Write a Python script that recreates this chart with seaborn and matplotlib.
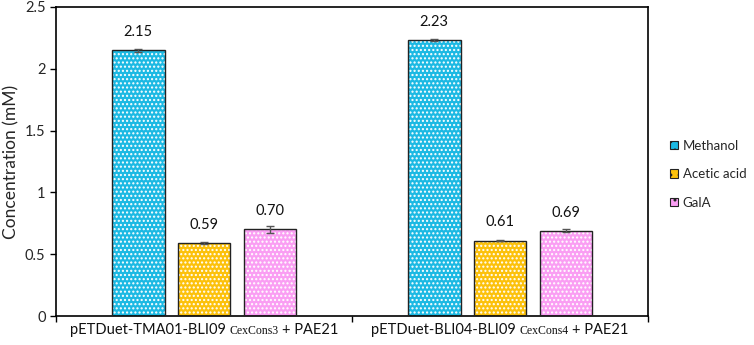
import matplotlib
matplotlib.use("Agg")
import matplotlib.pyplot as plt
import seaborn as sns
import pandas as pd
import numpy as np
from matplotlib.patches import Rectangle
from matplotlib.offsetbox import TextArea, HPacker, AnnotationBbox

groups = ["pETDuet-TMA01-BLI09 CexCons3 + PAE21",
          "pETDuet-BLI04-BLI09 CexCons4 + PAE21"]
label_prefix = ["pETDuet-TMA01-BLI09", "pETDuet-BLI04-BLI09"]
label_middle = ["CexCons3", "CexCons4"]
label_suffix = ["+ PAE21", "+ PAE21"]
compounds = ["Methanol", "Acetic acid", "GalA"]
methanol = [2.15, 2.23]
acetic = [0.59, 0.61]
gala = [0.70, 0.69]
methanol_err = [0.012, 0.008]
acetic_err = [0.005, 0.005]
gala_err = [0.03, 0.012]
value_labels = {"Methanol": ["2.15", "2.23"], "Acetic acid": ["0.59", "0.61"], "GalA": ["0.70", "0.69"]}
colors = ["#1cb9e3", "#fcc10b", "#fa9ef3"]

df = pd.DataFrame({
    "group": groups * 3,
    "compound": sum([[c] * 2 for c in compounds], []),
    "value": methanol + acetic + gala,
    "err": methanol_err + acetic_err + gala_err,
})

sns.set_theme(style="white")
plt.rcParams["font.family"] = ["Lato", "DejaVu Sans"]

fig = plt.figure(figsize=(7.54, 3.45), dpi=100)
ax = fig.add_axes([0.0743, 0.084, 0.7852, 0.896])

sns.barplot(data=df, x="group", y="value", hue="compound", order=groups,
            hue_order=compounds, palette=colors, width=0.667, gap=0.2,
            errorbar=None, ax=ax, legend=False, saturation=1)

bar_containers = list(ax.containers)
for i, cont in enumerate(bar_containers):
    comp = compounds[i]
    sub = df[df.compound == comp].set_index("group").loc[groups]
    xs, ys = [], []
    for p in cont.patches:
        p.set_hatch("....")
        p.set_edgecolor("white")
        p.set_linewidth(0)
        ax.add_patch(Rectangle((p.get_x(), p.get_y()), p.get_width(), p.get_height(),
                               fill=False, edgecolor="#222222", linewidth=1.0, zorder=3))
        xs.append(p.get_x() + p.get_width() / 2)
        ys.append(p.get_height())
    ax.errorbar(xs, ys, yerr=sub["err"].values, fmt="none", ecolor="#555555",
                elinewidth=1, capsize=3, capthick=1, zorder=4)
    ax.bar_label(cont, labels=value_labels[comp], padding=8, fontsize=10.5, color="#111111")

ax.set_ylim(0, 2.5)
ax.set_xlim(-0.5, 1.5)
ax.set_yticks([0, 0.5, 1, 1.5, 2, 2.5])
ax.set_yticklabels(["0", "0.5", "1", "1.5", "2", "2.5"], fontsize=10.5)
ax.set_xticks([0, 1])
ax.set_xticklabels(["", ""])
ax.tick_params(axis="x", length=0)
ax.tick_params(axis="y", left=True, length=4, width=1, direction="out", color="black")
ax.set_xticks([-0.5, 0.5, 1.5], minor=True)
ax.tick_params(axis="x", which="minor", bottom=True, length=4, width=1, color="black", direction="out")
ax.set_xlabel("")
ax.set_ylabel("Concentration (mM)", fontsize=12.5)
for s in ax.spines.values():
    s.set_visible(True)
    s.set_color("black")
    s.set_linewidth(1.2)

for k in range(len(groups)):
    parts = [
        TextArea(label_prefix[k], textprops=dict(family=["Lato", "DejaVu Sans"], size=10.5, color="#111111")),
        TextArea(label_middle[k], textprops=dict(family=["Liberation Serif"], size=8.5, color="#111111")),
        TextArea(label_suffix[k], textprops=dict(family=["Lato", "DejaVu Sans"], size=10.5, color="#111111")),
    ]
    pack = HPacker(children=parts, align="baseline", pad=0, sep=2.5)
    ab = AnnotationBbox(pack, (k, 0), xycoords=ax.get_xaxis_transform(),
                        xybox=(0, -5), boxcoords="offset points",
                        box_alignment=(0.5, 1), frameon=False, pad=0)
    ax.add_artist(ab)

handles = [Rectangle((0, 0), 1, 1, facecolor=c, edgecolor="#222222", hatch="..", linewidth=0.8)
           for c in colors]
leg = fig.legend(handles, compounds, loc="center left", bbox_to_anchor=(0.889, 0.495),
                 frameon=False, fontsize=9.5, handlelength=0.6, handleheight=0.6,
                 handletextpad=0.35, labelspacing=1.25, borderpad=0, borderaxespad=0)

fig.savefig("out.png", dpi=100)
